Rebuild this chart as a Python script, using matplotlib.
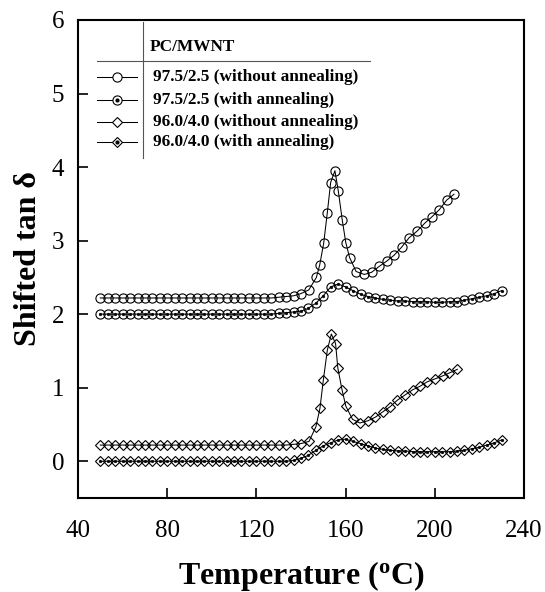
import matplotlib
matplotlib.use("Agg")
import matplotlib.pyplot as plt
from matplotlib.lines import Line2D

plt.rcParams['font.family'] = ['Liberation Serif', 'DejaVu Serif']
plt.rcParams['mathtext.fontset'] = 'custom'
plt.rcParams['mathtext.rm'] = 'Liberation Serif'
plt.rcParams['mathtext.bf'] = 'Liberation Serif:bold'

# ---- data ----
T_common_base = [50, 53.3, 56.7, 60, 63.3, 66.7, 70, 73.3, 76.7, 80, 83.3, 86.7, 90, 93.3,
                 96.7, 100, 103.3, 106.7, 110, 113.3, 116.7, 120, 123.3, 126.7, 130, 133.3,
                 136.7, 140]

# 97.5/2.5 without annealing
T1 = T_common_base + [143.5, 146.9, 148.4, 150.2, 151.8, 153.3, 155.2, 156.7, 158.5, 160.1,
                      161.8, 164.7, 168.4, 171.7, 175.1, 178.4, 181.7, 185.1, 188.5, 192.1,
                      195.6, 198.6, 202, 205.3, 208.6]
y1 = [2.22, 2.22, 2.22, 2.22, 2.22, 2.22, 2.22, 2.22, 2.22, 2.22, 2.22, 2.22, 2.22, 2.22,
      2.22, 2.22, 2.22, 2.22, 2.22, 2.22, 2.22, 2.22, 2.22, 2.22, 2.23, 2.24, 2.25, 2.28,
      2.33, 2.50, 2.67, 2.97, 3.38, 3.79, 3.95, 3.68, 3.28, 2.97, 2.77, 2.58, 2.54, 2.57,
      2.65, 2.72, 2.80, 2.91, 3.04, 3.13, 3.24, 3.32, 3.42, 3.55, 3.63]

# 97.5/2.5 with annealing
T2 = T_common_base + [143.3, 146.7, 150, 153.3, 156.7, 160, 163.3, 166.7, 170, 173.3, 176.7,
                      180, 183.3, 186.7, 190, 193.3, 196.7, 200, 203.3, 206.7, 210, 213.3,
                      216.7, 220, 223.3, 226.7, 230]
y2 = [2.00, 2.00, 2.00, 2.00, 2.00, 2.00, 2.00, 2.00, 2.00, 2.00, 2.00, 2.00, 2.00, 2.00,
      2.00, 2.00, 2.00, 2.00, 2.00, 2.00, 2.00, 2.00, 2.00, 2.00, 2.01, 2.02, 2.03, 2.04,
      2.08, 2.15, 2.25, 2.37, 2.41, 2.37, 2.32, 2.27, 2.24, 2.22, 2.20, 2.19, 2.18, 2.18,
      2.17, 2.17, 2.17, 2.16, 2.16, 2.17, 2.17, 2.19, 2.21, 2.23, 2.25, 2.28, 2.32]

# 96.0/4.0 without annealing
T3 = T_common_base + [143.6, 146.7, 148.5, 150, 151.8, 153.6, 155.5, 156.5, 158.4, 160.1,
                      163.1, 166.4, 170, 173.4, 176.6, 179.9, 183.2, 186.6, 190, 193.4,
                      196.6, 200.1, 203.5, 206.5, 210.1]
y3 = [0.22, 0.22, 0.22, 0.22, 0.22, 0.22, 0.22, 0.22, 0.22, 0.22, 0.22, 0.22, 0.22, 0.22,
      0.22, 0.22, 0.22, 0.22, 0.22, 0.22, 0.22, 0.22, 0.22, 0.22, 0.22, 0.22, 0.23, 0.24,
      0.27, 0.47, 0.72, 1.10, 1.51, 1.73, 1.60, 1.27, 0.97, 0.75, 0.57, 0.52, 0.55, 0.60,
      0.67, 0.74, 0.83, 0.90, 0.97, 1.02, 1.08, 1.12, 1.16, 1.20, 1.25]

# 96.0/4.0 with annealing
T4 = T2
y4 = [0.00, 0.00, 0.00, 0.00, 0.00, 0.00, 0.00, 0.00, 0.00, 0.00, 0.00, 0.00, 0.00, 0.00,
      0.00, 0.00, 0.00, 0.00, 0.00, 0.00, 0.00, 0.00, 0.00, 0.00, 0.00, 0.00, 0.01, 0.04,
      0.08, 0.15, 0.21, 0.25, 0.29, 0.30, 0.27, 0.24, 0.21, 0.18, 0.16, 0.15, 0.14, 0.14,
      0.13, 0.13, 0.13, 0.13, 0.13, 0.13, 0.14, 0.15, 0.17, 0.19, 0.22, 0.25, 0.29]

labels = ["97.5/2.5 (without annealing)", "97.5/2.5 (with annealing)",
          "96.0/4.0 (without annealing)", "96.0/4.0 (with annealing)"]
legend_title = "PC/MWNT"
xticks = [40, 80, 120, 160, 200, 240]
yticks = [0, 1, 2, 3, 4, 5, 6]

fig = plt.figure(figsize=(5.45, 5.92), dpi=100)
ax = fig.add_axes([78/545, 1-498/592, (524-78)/545, (498-20)/592])

lw = 0.75
mew = 0.8
styles = [
    dict(marker='o', ms=6.6, dot=False),
    dict(marker='o', ms=6.6, dot=True),
    dict(marker='D', ms=5.2, dot=False),
    dict(marker='D', ms=5.2, dot=True),
]
series = [(T1, y1), (T2, y2), (T3, y3), (T4, y4)]
for (T, y), st in zip(series, styles):
    ax.plot(T, y, color='black', lw=lw, marker=st['marker'], ms=st['ms'],
            mfc='none', mec='black', mew=mew, zorder=2)
    if st['dot']:
        ax.plot(T, y, ls='none', marker='o', ms=2.0, mfc='black', mec='black', mew=0.3, zorder=3)

ax.set_xlim(40, 240)
ax.set_ylim(-0.5, 6)
ax.set_xticks(xticks)
ax.set_yticks(yticks)
ax.tick_params(direction='in', length=7, width=1.2, labelsize=18)
ax.tick_params(axis='x', pad=16)
ax.tick_params(axis='y', pad=10)
ax.tick_params(top=False, right=False)
for s in ax.spines.values():
    s.set_linewidth(1.5)

ax.set_xlabel(r"Temperature ($\mathbf{^o}$C)", fontsize=23, fontweight='bold', labelpad=12)
ax.set_ylabel(r"Shifted tan δ", fontsize=23, fontweight='bold', labelpad=6)

# custom legend (axes coordinates from figure pixels)
def ax_xy(px, py):
    x = (px - 78) / (524 - 78)
    y = (498 - py) / (498 - 20)
    return x, y

tr = ax.transAxes
x0, yA = ax_xy(97, 61)
x1, _ = ax_xy(370, 61)
ax.add_line(Line2D([x0, x1], [yA, yA], transform=tr, color='#555555', lw=0.8))
vx, vy0 = ax_xy(143, 22)
_, vy1 = ax_xy(143, 158)
ax.add_line(Line2D([vx, vx], [vy0, vy1], transform=tr, color='#555555', lw=0.8))
tx, ty = ax_xy(150, 47)
ax.text(tx, ty, legend_title, transform=tr, fontsize=12.4, fontweight='bold', va='center', ha='left')
rows_py = [77, 99.5, 121.5, 142]
for lab, st, py in zip(labels, styles, rows_py):
    lx0, ly = ax_xy(97, py)
    lx1, _ = ax_xy(137, py)
    lxm, _ = ax_xy(117, py)
    ax.add_line(Line2D([lx0, lx1], [ly, ly], transform=tr, color='black', lw=lw))
    ax.add_line(Line2D([lxm], [ly], transform=tr, marker=st['marker'], ms=st['ms'],
                       mfc='white', mec='black', mew=mew, ls='none'))
    if st['dot']:
        ax.add_line(Line2D([lxm], [ly], transform=tr, marker='o', ms=2.0, mfc='black',
                           mec='black', ls='none'))
    ttx, _ = ax_xy(153, py)
    ax.text(ttx, ly, lab, transform=tr, fontsize=12.4, fontweight='bold', va='center', ha='left')

fig.savefig("out.png", dpi=100)
